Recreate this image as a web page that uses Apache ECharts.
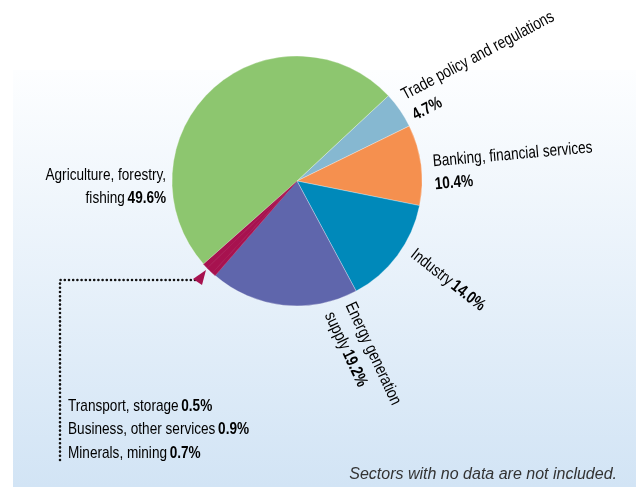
<!DOCTYPE html>
<html><head><meta charset="utf-8">
<script src="https://cdn.jsdelivr.net/npm/echarts@6/dist/echarts.min.js"></script>
<style>html,body{margin:0;padding:0;background:#fff}#c{width:636px;height:487px}</style>
</head><body><div id="c"></div>
<script>
// ---- data ----
const categories = ['Trade policy and regulations', 'Banking, financial services', 'Industry', 'Energy generation supply', 'Transport, storage', 'Business, other services', 'Minerals, mining', 'Agriculture, forestry, fishing'];
const shares = [4.7, 10.4, 14.0, 19.2, 0.5, 0.9, 0.7, 49.6];
const labelLines = [['Trade policy and regulations', ''], ['Banking, financial services', ''], ['Industry'], ['Energy generation', 'supply'], null, null, null, ['Agriculture, forestry,', 'fishing']];
const smallSectors = [4, 5, 6];
const footnote = 'Sectors with no data are not included.';

// ---- styles ----
const FONT = '"Liberation Sans", Arial, sans-serif';
const SX = 0.8;
const colors = ['#86B8D1', '#F5904F', '#0089BA', '#5F66AC', '#A7124F', '#A7124F', '#A7124F', '#8DC66F'];
const CX = 297, CY = 181, R = 125;
const labelPos = {
  0: {a: 34, r: 134, rot: 28, align: 'left'},
  1: {a: 3.3, r: 137, rot: 5, align: 'left'},
  2: {a: -31.8, r: 136, rot: -38, align: 'left'},
  3: {a: -71.7, r: 134, rot: -65, align: 'left'},
  7: {a: 182.6, r: 131, rot: 0, align: 'right'}
};
const rich = {
  n: {fontFamily: FONT, fontSize: 17, color: '#383838', lineHeight: 23},
  b: {fontFamily: FONT, fontSize: 17, fontWeight: 'bold', color: '#111', lineHeight: 23}
};
const pct = v => v.toFixed(1) + '%';

function fmt(i) {
  const l = labelLines[i];
  const v = '{b|' + pct(shares[i]) + '}';
  if (l.length === 1) return '{n|' + l[0] + '} ' + v;
  return '{n|' + l[0] + '}\n' + (l[1] ? '{n|' + l[1] + '} ' : '') + v;
}

const sliceLabels = Object.keys(labelPos).map(k => {
  const i = +k, c = labelPos[k], ang = c.a * Math.PI / 180;
  return {
    type: 'text', z: 10,
    x: CX + c.r * Math.cos(ang), y: CY - c.r * Math.sin(ang),
    rotation: c.rot * Math.PI / 180, scaleX: SX,
    style: {text: fmt(i), rich: rich, align: c.align, verticalAlign: 'middle'}
  };
});

const legendTexts = smallSectors.map((idx, k) => ({
  type: 'text', z: 10, x: 68, y: 406 + k * 23.5, scaleX: SX,
  style: {
    text: '{n|' + categories[idx] + '} {b|' + pct(shares[idx]) + '}',
    rich: rich, verticalAlign: 'middle', align: 'left'
  }
}));

const chart = echarts.init(document.getElementById('c'), null, {renderer: 'canvas'});
chart.setOption({
  animation: false,
  graphic: [
    {type: 'rect', z: 0, shape: {x: 13, y: 70, width: 623, height: 417},
     style: {fill: new echarts.graphic.LinearGradient(0, 0, 0, 1, [
       {offset: 0, color: '#FDFEFF'}, {offset: 1, color: '#D2E4F5'}])}},
    {type: 'polyline', z: 10, shape: {points: [[60, 460], [60, 280], [195, 280]]},
     style: {stroke: '#111', lineWidth: 2.6, lineDash: [0, 4.2], lineCap: 'round', fill: null}},
    {type: 'polygon', z: 10, shape: {points: [[193, 279], [206, 270], [202, 285]]},
     style: {fill: '#A7124F'}},
    ...sliceLabels,
    ...legendTexts,
    {type: 'text', z: 10, x: 617, y: 475, style: {text: footnote, align: 'right', verticalAlign: 'middle',
      font: 'italic 16px "Liberation Sans", sans-serif', fill: '#333'}}
  ],
  series: [{
    type: 'pie',
    center: [CX, CY],
    radius: R,
    startAngle: 43,
    clockwise: true,
    avoidLabelOverlap: false,
    emphasis: {disabled: true},
    itemStyle: {borderColor: 'rgba(255,255,255,0.5)', borderWidth: 0.6},
    labelLine: {show: false},
    label: {show: false},
    data: categories.map((n, i) => ({
      name: n, value: shares[i],
      itemStyle: smallSectors.indexOf(i) >= 0
        ? {color: colors[i], borderColor: colors[i], borderWidth: 0.6}
        : {color: colors[i]}
    }))
  }]
});
</script>
</body></html>
